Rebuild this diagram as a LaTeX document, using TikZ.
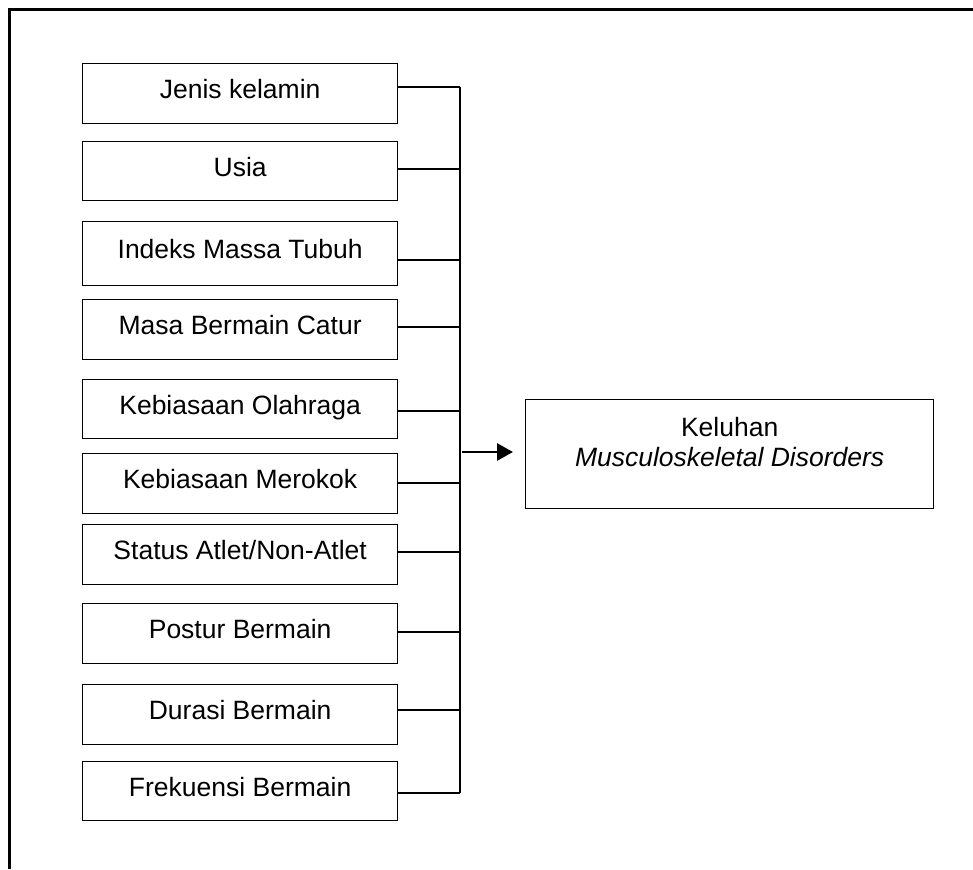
\documentclass[tikz,border=0pt]{standalone}
\usepackage{fontspec}
\setmainfont{Liberation Sans}
\usetikzlibrary{arrows.meta}
\tikzset{
  factor/.style={draw=black, line width=1.3pt, minimum width=315pt, inner sep=0pt, anchor=north west,
    text height=19pt, text depth=9pt, font=\fontsize{26.5}{31}\selectfont},
  link/.style={draw=black, line width=1.2pt},
  bar/.style={draw=black, line width=1.5pt},
  frame/.style={draw=black, line width=3pt},
}
\begin{document}
\begin{tikzpicture}[x=1pt,y=-1pt]
\useasboundingbox (0,0) rectangle (973,869);
\draw[frame] (9.5,869) -- (9.5,9.5) -- (973,9.5);
% factor boxes
\node[factor, minimum height=60pt] (b1) at (82,63) {Jenis kelamin};
\node[factor, minimum height=59pt] (b2) at (82,141) {Usia};
\node[factor, minimum height=64pt] (b3) at (82,221) {Indeks Massa Tubuh};
\node[factor, minimum height=60pt] (b4) at (82,299) {Masa Bermain Catur};
\node[factor, minimum height=59pt] (b5) at (82,379) {Kebiasaan Olahraga};
\node[factor, minimum height=60pt] (b6) at (82,453) {Kebiasaan Merokok};
\node[factor, minimum height=60pt] (b7) at (82,524) {Status Atlet/Non-Atlet};
\node[factor, minimum height=60pt] (b8) at (82,603) {Postur Bermain};
\node[factor, minimum height=60pt] (b9) at (82,684) {Durasi Bermain};
\node[factor, minimum height=59pt] (b10) at (82,761) {Frekuensi Bermain};
% junction points on the bar
\coordinate (j1) at (460,87);
\coordinate (j2) at (460,169);
\coordinate (j3) at (460,260);
\coordinate (j4) at (460,327);
\coordinate (j5) at (460,411);
\coordinate (j6) at (460,483);
\coordinate (j7) at (460,552);
\coordinate (j8) at (460,632);
\coordinate (j9) at (460,710);
\coordinate (j10) at (460,793);
\coordinate (jm) at (462,452);
\coordinate (ae) at (513,452);
\foreach \i in {1,...,10} {
  \draw[link] (b\i.east |- j\i) -- (j\i);
}
\draw[bar] (j1) -- (j10);
% result box
\node[draw=black, line width=1.3pt, minimum width=408pt, minimum height=109pt, inner sep=0pt, anchor=north west] (r) at (525,399) {};
\node[align=center, font=\fontsize{26.5}{30}\selectfont, inner sep=0pt] (rt) at ([yshift=12pt]r.center) {Keluhan\\\textit{Musculoskeletal Disorders}};
\draw[line width=2.8pt, -{Triangle[length=16pt,width=17pt]}] (jm) -- (ae);
\end{tikzpicture}
\end{document}
